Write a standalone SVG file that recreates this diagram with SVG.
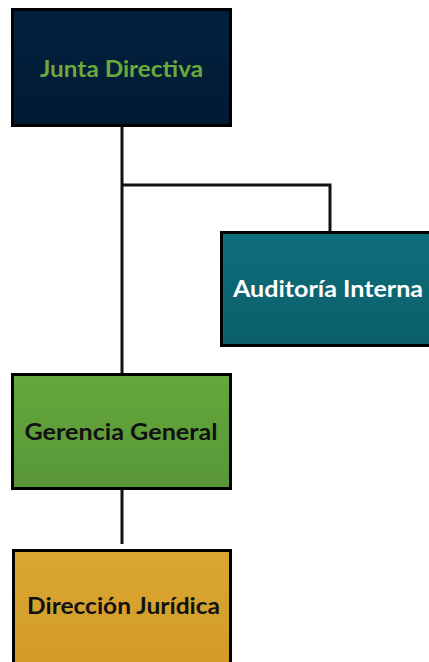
<svg xmlns="http://www.w3.org/2000/svg" width="429" height="662" viewBox="0 0 429 662">
  <style>
    .box { stroke: #000; stroke-width: 3; }
    .lbl { font-family: Lato, "Open Sans", sans-serif; font-weight: bold; font-size: 23.5px; text-anchor: middle; dominant-baseline: central; }
    .conn { fill: none; stroke: #111; stroke-width: 3; }
  </style>
  <defs>
    <linearGradient id="gNavy" x1="0" y1="0" x2="0" y2="1">
      <stop offset="0" stop-color="#03213f"/>
      <stop offset="1" stop-color="#001a33"/>
    </linearGradient>
    <linearGradient id="gTeal" x1="0" y1="0" x2="0" y2="1">
      <stop offset="0" stop-color="#0f6e7b"/>
      <stop offset="1" stop-color="#0a5f6a"/>
    </linearGradient>
    <linearGradient id="gGreen" x1="0" y1="0" x2="0" y2="1">
      <stop offset="0" stop-color="#65a83a"/>
      <stop offset="1" stop-color="#58963a"/>
    </linearGradient>
    <linearGradient id="gGold" x1="0" y1="0" x2="0" y2="1">
      <stop offset="0" stop-color="#dca633"/>
      <stop offset="1" stop-color="#d19b26"/>
    </linearGradient>
  </defs>

  <!-- connectors -->
  <g id="connectors">
    <path class="conn" d="M122 126 V374"/>
    <path class="conn" d="M122 185 H330 V232"/>
    <path class="conn" d="M122 489 V544"/>
  </g>

  <g id="junta-directiva">
    <rect class="box" x="12.5" y="9.5" width="218" height="116" fill="url(#gNavy)"/>
    <text class="lbl" x="121.5" y="68" fill="#6aaa3c" textLength="163" lengthAdjust="spacingAndGlyphs">Junta Directiva</text>
  </g>

  <g id="auditoria-interna">
    <rect class="box" x="221.5" y="232.5" width="212" height="113" fill="url(#gTeal)"/>
    <text class="lbl" x="328" y="288" fill="#ffffff" textLength="190" lengthAdjust="spacingAndGlyphs">Auditoría Interna</text>
  </g>

  <g id="gerencia-general">
    <rect class="box" x="12.5" y="374.5" width="218" height="114" fill="url(#gGreen)"/>
    <text class="lbl" x="121" y="431" fill="#111111" textLength="193" lengthAdjust="spacingAndGlyphs">Gerencia General</text>
  </g>

  <g id="direccion-juridica">
    <rect class="box" x="13.5" y="550.5" width="217" height="120" fill="url(#gGold)"/>
    <text class="lbl" x="123.5" y="605" fill="#111111" textLength="193" lengthAdjust="spacingAndGlyphs">Dirección Jurídica</text>
  </g>
</svg>
